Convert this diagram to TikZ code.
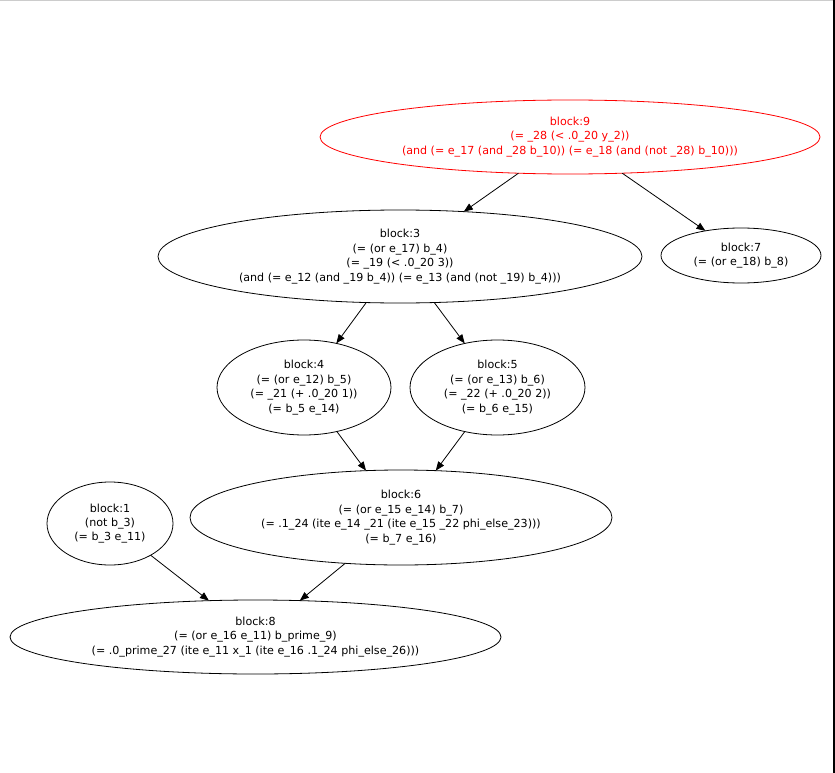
\documentclass[tikz,border=0pt]{standalone}
\usepackage{fontspec}
\setmainfont{DejaVu Sans}
\usepackage{tikz}
\usetikzlibrary{arrows.meta,shapes.geometric}

\begin{document}
\begin{tikzpicture}[
        x=1pt,
        y=-1pt,
        edge/.style={line width=0.8pt, -{Triangle[length=9pt,width=7pt]}},
        block/.style={draw, ellipse, line width=0.8pt, inner sep=0pt, outer sep=0pt, align=center,
            font=\fontsize{11.1}{14.4}\selectfont},
        hot/.style={block, draw=red, text=red}
    ]
        \useasboundingbox (0,0) rectangle (835,773);
        % frame bits of the capture
        \fill[gray!40] (0,0) rectangle (833,1.2);
        \fill[black] (833,0) rectangle (835,773);

        \node[hot, minimum width=500, minimum height=74] (b9) at (570,137)
            {block:9\\(= \_28 (< .0\_20 y\_2))\\(and (= e\_17 (and \_28 b\_10)) (= e\_18 (and (not \_28) b\_10)))};
        \node[block, minimum width=484, minimum height=93] (b3) at (400,256.5)
            {block:3\\(= (or e\_17) b\_4)\\(= \_19 (< .0\_20 3))\\(and (= e\_12 (and \_19 b\_4)) (= e\_13 (and (not \_19) b\_4)))};
        \node[block, minimum width=160, minimum height=55] (b7) at (741,255.5)
            {block:7\\(= (or e\_18) b\_8)};
        \node[block, minimum width=174, minimum height=95] (b4) at (304,387.5)
            {block:4\\(= (or e\_12) b\_5)\\(= \_21 (+ .0\_20 1))\\(= b\_5 e\_14)};
        \node[block, minimum width=175, minimum height=95] (b5) at (497.5,387.5)
            {block:5\\(= (or e\_13) b\_6)\\(= \_22 (+ .0\_20 2))\\(= b\_6 e\_15)};
        \node[block, minimum width=126, minimum height=83] (b1) at (110,523.5)
            {block:1\\(not b\_3)\\(= b\_3 e\_11)};
        \node[block, minimum width=422, minimum height=95] (b6) at (401,517.5)
            {block:6\\(= (or e\_15 e\_14) b\_7)\\(= .1\_24 (ite e\_14 \_21 (ite e\_15 \_22 phi\_else\_23)))\\(= b\_7 e\_16)};
        \node[block, minimum width=491, minimum height=74] (b8) at (255.5,637)
            {block:8\\(= (or e\_16 e\_11) b\_prime\_9)\\(= .0\_prime\_27 (ite e\_11 x\_1 (ite e\_16 .1\_24 phi\_else\_26)))};

        \foreach \from/\to in {b9/b3,b9/b7,b3/b4,b3/b5,b4/b6,b5/b6,b1/b8,b6/b8}{
            \draw[edge] (\from) -- (\to);
        }
\end{tikzpicture}
\end{document}
